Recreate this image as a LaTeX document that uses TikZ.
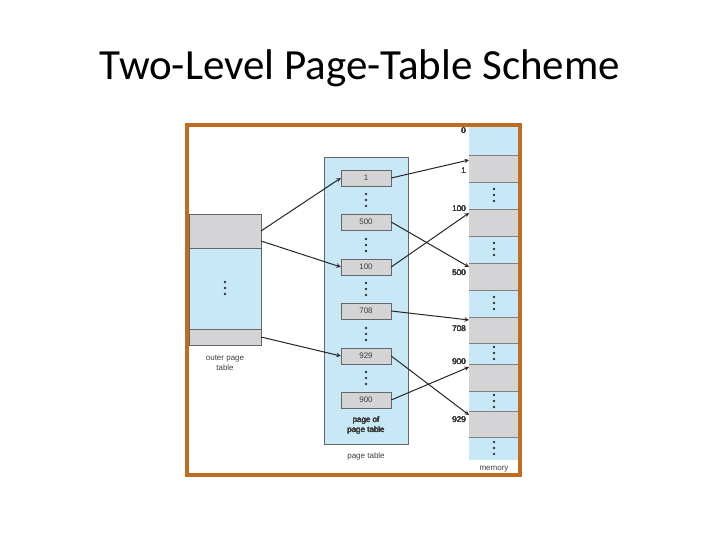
\documentclass[tikz,border=0pt]{standalone}
\usepackage{fontspec}
\setmainfont{Liberation Sans}
\newfontfamily\titlefont{Carlito}
\usetikzlibrary{positioning}
\definecolor{frame}{RGB}{190,110,30}
\definecolor{pblue}{RGB}{200,232,248}
\definecolor{pgray}{RGB}{212,212,214}
\tikzset{
  entry/.style={draw=black!60, fill=pgray, minimum width=50pt, minimum height=16pt, inner sep=0pt, font=\fontsize{8}{9}\selectfont, text=black!75},
  lbl/.style={inner sep=0pt, font=\fontsize{8}{10}\selectfont, text=black!75},
  ptr/.style={line width=1pt, ->, >=stealth, color=black!85}
}
\newcommand{\dotsat}[2]{\foreach \k in {-6,0,6} \fill[black!80] (#1,#2+\k) circle (1.4pt);}
\begin{document}
\begin{tikzpicture}[x=1pt,y=-1pt]
\useasboundingbox (0,0) rectangle (720,540);
\node (title) at (360,68) {\titlefont\fontsize{43}{50}\selectfont Two-Level Page-Table Scheme};
\fill[white] (187,125) rectangle (520,475);
% outer page table
\draw[black!60, fill=pblue] (189,214) rectangle (261,345);
\draw[black!60, fill=pgray] (189,214) rectangle (261,248);
\draw[black!60, fill=pgray] (189,329) rectangle (261,345);
\dotsat{225}{288}
\coordinate (o1) at (261,231);
\coordinate (o2) at (261,241);
\coordinate (o3) at (261,337);
\node[lbl, align=center] (olbl) at (225,363) {outer page\\table};
% page table
\draw[black!60, fill=pblue] (324,157) rectangle (408,444);
\foreach \n/\t/\y in {p1/1/178, p500/500/222, p100/100/267, p708/708/311, p929/929/356, p900/900/400}
  \node[entry] (\n) at (366,\y) {\t};
\foreach \y in {200, 245, 289, 334, 378} \dotsat{366}{\y}
\node[lbl, align=center] (pplbl) at (366,425) {page of\\page table};
\node[lbl] (ptlbl) at (366,456) {page table};
% memory
\fill[pblue] (469,127) rectangle (518,460);
\foreach \a/\b in {155/182, 209/236, 263/290, 317/343, 364/391, 411/437}
  \fill[pgray] (469,\a) rectangle (518,\b);
\foreach \y in {155,182,209,236,263,290,317,343,364,391,411,437}
  \draw[black!50] (469,\y) -- (518,\y);
\foreach \y in {195, 249, 303, 353, 401, 448} \dotsat{494}{\y}
\foreach \t/\y in {0/131, 1/171, 100/209, 500/273, 708/329, 900/362, 929/420}
  \node[lbl, anchor=east] at (466,\y) {\t};
\node[lbl] (mlbl) at (494,469) {memory};
\foreach \n/\y in {m1/160, m100/213, m500/267, m708/320, m900/367, m929/415}
  \coordinate (\n) at (469,\y);
% pointers
\draw[ptr] (o1) -- (p1.west);
\draw[ptr] (o2) -- (p100.west);
\draw[ptr] (o3) -- (p929.west);
\draw[ptr] (p1.east) -- (m1);
\draw[ptr] (p500.east) -- (m500);
\draw[ptr] (p100.east) -- (m100);
\draw[ptr] (p708.east) -- (m708);
\draw[ptr] (p929.east) -- (m929);
\draw[ptr] (p900.east) -- (m900);
\draw[frame, line width=3.5pt] (187,125) rectangle (520,475);
\end{tikzpicture}
\end{document}
